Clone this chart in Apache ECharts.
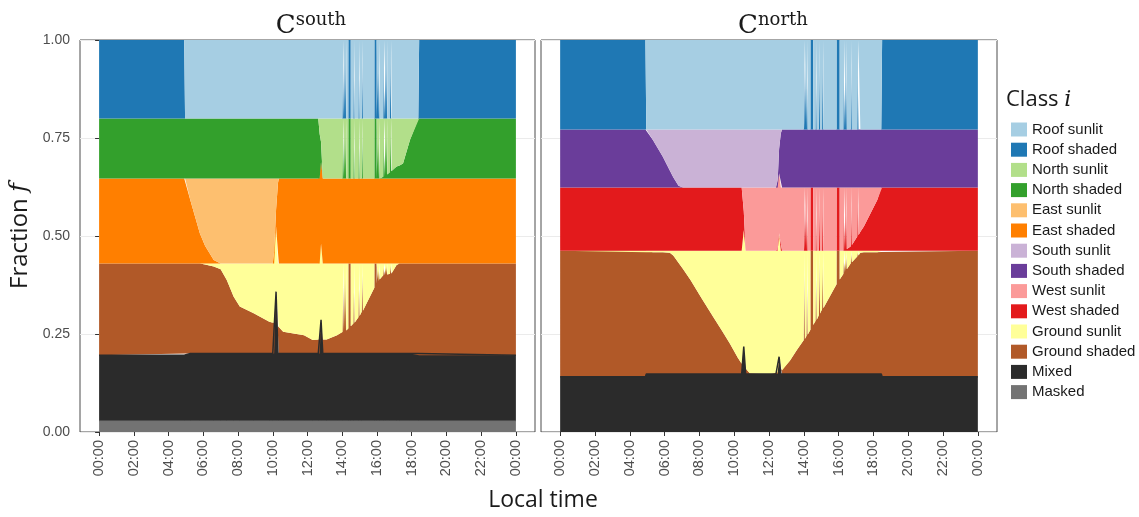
<!DOCTYPE html>
<html><head><meta charset="utf-8">
<script src="https://cdn.jsdelivr.net/npm/echarts@6/dist/echarts.min.js"></script>
<style>html,body{margin:0;padding:0;background:#fff}#c{width:1139px;height:517px}</style>
</head><body><div id="c"></div>
<script>
// ---------- tick labels ----------
const TICKS = [0, 2, 4, 6, 8, 10, 12, 14, 16, 18, 20, 22, 24];
const TICK_LABELS = ['00:00','02:00','04:00','06:00','08:00','10:00','12:00','14:00','16:00','18:00','20:00','22:00','00:00'];

// ---------- classes ----------
const CLASS_NAMES = ['Roof sunlit','Roof shaded','North sunlit','North shaded','East sunlit','East shaded',
  'South sunlit','South shaded','West sunlit','West shaded','Ground sunlit','Ground shaded','Mixed','Masked'];
const CLASS_COLORS = ['#a6cee3','#1f78b4','#b2df8a','#33a02c','#fdbf6f','#ff7f00',
  '#cab2d6','#6a3d9a','#fb9a99','#e31a1c','#ffff99','#b15928','#2b2b2b','#737373'];

// ---------- C south panel (hours of day) ----------
const S_T = [0,4.9,4.95,5.25,5.8,6.1,6.6,7.0,7.35,7.75,
  8.1,8.9,9.8,10.0,10.08,10.19,10.3,10.35,10.6,11.8,
  12.3,12.62,12.7,12.78,12.88,13.1,13.7,
  14.0,
  14.02,14.022,14.09,14.092, 14.16,14.162,14.23,14.232, 14.35,14.352,14.49,14.492,
  14.64,14.642,14.71,14.712, 14.93,14.932,15.0,15.002, 15.12,15.122,15.19,15.192,
  15.85,15.852,15.98,15.982, 16.07,16.072,16.15,16.152, 16.36,16.362,16.43,16.432,
  16.52,16.522,16.59,16.592, 16.75,16.752,16.82,16.822,
  16.85,17.13,17.3,17.5,17.9,18.38,18.43,24];
const S_ROOF_SUN = [0,0,.2,.2,.2,.2,.2,.2,.2,.2,
  .2,.2,.2,.2,.2,.2,.2,.2,.2,.2,
  .2,.2,.2,.2,.2,.2,.2,
  .2,
  .2,0,0,.2, .2,0,0,.2, .2,0,0,.2,
  .2,0,0,.2, .2,0,0,.2, .2,0,0,.2,
  .2,0,0,.2, .2,0,0,.2, .2,0,0,.2,
  .2,0,0,.2, .2,0,0,.2,
  .2,.2,.2,.2,.2,.2,0,0];
const S_ROOF_SH = [.2,.2,0,0,0,0,0,0,0,0,
  0,0,0,0,0,0,0,0,0,0,
  0,0,0,0,0,0,0,
  0,
  0,.2,.2,0, 0,.2,.2,0, 0,.2,.2,0,
  0,.2,.2,0, 0,.2,.2,0, 0,.2,.2,0,
  0,.2,.2,0, 0,.2,.2,0, 0,.2,.2,0,
  0,.2,.2,0, 0,.2,.2,0,
  0,0,0,0,0,0,.2,.2];
const S_NORTH_SUN = [0,0,0,0,0,0,0,0,0,0,
  0,0,0,0,0,0,0,0,0,0,
  0,0,.04,.06,.153,.153,.153,
  .153,
  .153,0,0,.153, .153,0,0,.153, .153,0,0,.153,
  .153,0,0,.153, .153,0,0,.153, .153,0,0,.153,
  .153,0,0,.153, .153,0,0,.153, .149,0,0,.148,
  .144,0,0,.143, .137,0,0,.135,
  .134,.123,.12,.115,.055,0,0,0];
const S_NORTH_SH = [.153,.153,.153,.153,.153,.153,.153,.153,.153,.153,
  .153,.153,.153,.153,.153,.153,.153,.153,.153,.153,
  .153,.153,.113,.05,0,0,0,
  0,
  0,.153,.153,0, 0,.153,.153,0, 0,.153,.153,0,
  0,.153,.153,0, 0,.153,.153,0, 0,.153,.153,0,
  0,.153,.153,0, 0,.153,.153,0, .004,.153,.153,.005,
  .009,.153,.153,.01, .016,.153,.153,.018,
  .019,.03,.033,.038,.098,.153,.153,.153];
const S_EAST_SUN = [0,0,0,.055,.14,.172,.208,.217,.217,.217,
  .217,.217,.217,.217,.185,.08,.012,0,0,0,
  0,0,0,0,0,0,0,
  0,
  0,0,0,0, 0,0,0,0, 0,0,0,0,
  0,0,0,0, 0,0,0,0, 0,0,0,0,
  0,0,0,0, 0,0,0,0, 0,0,0,0,
  0,0,0,0, 0,0,0,0,
  0,0,0,0,0,0,0,0];
const S_EAST_SH = [.217,.217,.217,.162,.077,.045,.009,0,0,0,
  0,0,0,0,.032,.043,.205,.217,.217,.217,
  .217,.217,.217,.209,.217,.217,.217,
  .217,
  .217,.217,.217,.217, .217,.217,.217,.217, .217,.217,.217,.217,
  .217,.217,.217,.217, .217,.217,.217,.217, .217,.217,.217,.217,
  .217,.217,.217,.217, .217,.217,.217,.217, .217,.217,.217,.217,
  .217,.217,.217,.217, .217,.217,.217,.217,
  .217,.217,.217,.217,.217,.217,.217,.217];
const S_GROUND_SUN = [0,0,0,0,0,.003,.008,.015,.042,.085,
  .11,.127,.149,.151,.152,.166,.16,.162,.174,.183,
  .195,.194,.194,.195,.194,.194,.183,
  .175,
  .175,0,0,.174, .172,0,0,.171, .166,0,0,.16,
  .153,0,0,.151, .137,0,0,.134, .123,0,0,.121,
  .062,0,0,.051, .046,0,0,.041, .03,0,0,.03,
  .028,0,0,.028, .026,0,0,.026,
  .025,.004,0,0,0,0,0,0];
const S_GROUND_SH = [.234,.234,.23,.23,.23,.227,.222,.215,.188,.145,
  .12,.103,.081,.079,.078,0,.07,.068,.056,.047,
  .035,.036,.036,0,.036,.036,.047,
  .055,
  .055,.23,.23,.056, .058,.23,.23,.059, .064,.23,.23,.07,
  .077,.23,.23,.079, .093,.23,.23,.096, .107,.23,.23,.109,
  .168,.23,.23,.179, .184,.23,.23,.189, .2,.23,.23,.2,
  .202,.23,.23,.202, .204,.23,.23,.204,
  .205,.226,.23,.23,.23,.23,.234,.234];
const S_MIXED = [.168,.168,.172,.172,.172,.172,.172,.172,.172,.172,
  .172,.172,.172,.172,.172,.33,.172,.172,.172,.172,
  .172,.172,.172,.258,.172,.172,.172,
  .172,
  .172,.172,.172,.172, .172,.172,.172,.172, .172,.172,.172,.172,
  .172,.172,.172,.172, .172,.172,.172,.172, .172,.172,.172,.172,
  .172,.172,.172,.172, .172,.172,.172,.172, .172,.172,.172,.172,
  .172,.172,.172,.172, .172,.172,.172,.172,
  .172,.172,.172,.172,.172,.172,.168,.168];
const S_MASKED = [.028,.028,.028,.028,.028,.028,.028,.028,.028,.028,
  .028,.028,.028,.028,.028,.028,.028,.028,.028,.028,
  .028,.028,.028,.028,.028,.028,.028,
  .028,
  .028,.028,.028,.028, .028,.028,.028,.028, .028,.028,.028,.028,
  .028,.028,.028,.028, .028,.028,.028,.028, .028,.028,.028,.028,
  .028,.028,.028,.028, .028,.028,.028,.028, .028,.028,.028,.028,
  .028,.028,.028,.028, .028,.028,.028,.028,
  .028,.028,.028,.028,.028,.028,.028,.028];

// ---------- C north panel ----------
const N_T = [0,4.9,4.95,5.33,5.9,6.3,6.5,6.8,7.06,7.5,
  8.1,8.79,9.3,9.75,10.2,10.43,10.55,10.66,10.9,12.06,
  12.4,12.5,12.58,12.68,12.75,13.2,13.6,
  13.99,13.992,14.06,14.062, 14.15,14.152,14.22,14.222, 14.38,14.382,14.54,14.542,
  14.67,14.672,14.74,14.742, 14.86,14.862,14.93,14.932, 15.05,15.052,15.12,15.122,
  15.88,15.882,16.06,16.062, 16.27,16.272,16.34,16.342, 16.40,16.402,16.47,16.472,
  16.69,16.692,16.76,16.762, 17.07,17.072,17.14,17.142,
  17.25,17.45,18.22,18.45,18.5,24];
const N_ROOF_SUN = [0,0,.228,.228,.228,.228,.228,.228,.228,.228,
  .228,.228,.228,.228,.228,.228,.228,.228,.228,.228,
  .228,.228,.228,.228,.228,.228,.228,
  .228,0,0,.228, .228,0,0,.228, .228,0,0,.228,
  .228,0,0,.228, .228,0,0,.228, .228,0,0,.228,
  .228,0,0,.228, .228,0,0,.228, .228,0,0,.228,
  .228,0,0,.228, .228,0,0,.228,
  .228,.228,.228,.228,0,0];
const N_ROOF_SH = [.228,.228,0,0,0,0,0,0,0,0,
  0,0,0,0,0,0,0,0,0,0,
  0,0,0,0,0,0,0,
  0,.228,.228,0, 0,.228,.228,0, 0,.228,.228,0,
  0,.228,.228,0, 0,.228,.228,0, 0,.228,.228,0,
  0,.228,.228,0, 0,.228,.228,0, 0,.228,.228,0,
  0,.228,.228,0, 0,.228,.228,0,
  0,0,0,0,.228,.228];
const N_SOUTH_SUN = [0,0,0,.027,.07,.105,.122,.144,.148,.148,
  .148,.148,.148,.148,.148,.148,.148,.148,.148,.148,
  .148,.13,.05,.01,0,0,0,
  0,0,0,0, 0,0,0,0, 0,0,0,0,
  0,0,0,0, 0,0,0,0, 0,0,0,0,
  0,0,0,0, 0,0,0,0, 0,0,0,0,
  0,0,0,0, 0,0,0,0,
  0,0,0,0,0,0];
const N_SOUTH_SH = [.148,.148,.148,.121,.078,.043,.026,.004,0,0,
  0,0,0,0,0,0,0,0,0,0,
  0,.018,.062,.138,.148,.148,.148,
  .148,.148,.148,.148, .148,.148,.148,.148, .148,.148,.148,.148,
  .148,.148,.148,.148, .148,.148,.148,.148, .148,.148,.148,.148,
  .148,.148,.148,.148, .148,.148,.148,.148, .148,.148,.148,.148,
  .148,.148,.148,.148, .148,.148,.148,.148,
  .148,.148,.148,.148,.148,.148];
const N_WEST_SUN = [0,0,0,0,0,0,0,0,0,0,
  0,0,0,0,0,0,.06,.1615,.1615,.1615,
  .1615,.1615,.153,.1615,.1615,.1615,.1615,
  .1615,0,0,.1615, .1615,0,0,.1615, .1615,0,0,.1615,
  .1615,0,0,.1615, .1615,0,0,.1615, .1615,0,0,.1615,
  .1615,0,0,.1615, .1615,0,0,.1615, .158,0,0,.157,
  .151,0,0,.147, .125,0,0,.122,
  .113,.10,.032,0,0,0];
const N_WEST_SH = [.1615,.1615,.1615,.1615,.1615,.1615,.1615,.1615,.1615,.1615,
  .1615,.1615,.1615,.1615,.1615,.1615,.049,0,0,0,
  0,0,0,0,0,0,0,
  0,.1615,.1615,0, 0,.1615,.1615,0, 0,.1615,.1615,0,
  0,.1615,.1615,0, 0,.1615,.1615,0, 0,.1615,.1615,0,
  0,.1615,.1615,0, 0,.1615,.1615,0, .0035,.1615,.1615,.0045,
  .0105,.1615,.1615,.0145, .0365,.1615,.1615,.0395,
  .0485,.0615,.1295,.1615,.1615,.1615];
const N_GROUND_SUN = [0,0,.004,.004,.004,.005,.0125,.0305,.0465,.0755,
  .1195,.1685,.2045,.2365,.2725,.2885,.297,.3005,.3125,.3145,
  .3115,.311,.315,.3065,.3055,.2805,.2535,
  .2285,0,0,.2255, .2175,0,0,.2145, .2015,0,0,.1895,
  .1795,0,0,.1765, .1645,0,0,.1605, .1495,0,0,.1465,
  .0855,0,0,.0735, .0595,0,0,.0565, .0515,0,0,.0475,
  .0325,0,0,.0295, .0145,0,0,.0125,
  .0055,.004,.004,.003,0,0];
const N_GROUND_SH = [.3215,.3215,.3105,.3105,.3105,.3095,.302,.284,.268,.239,
  .195,.146,.11,.078,.042,.026,0,.014,.002,0,
  .003,.0035,0,.008,.009,.034,.061,
  .086,.3145,.3145,.089, .097,.3145,.3145,.10, .113,.3145,.3145,.125,
  .135,.3145,.3145,.138, .15,.3145,.3145,.154, .165,.3145,.3145,.168,
  .229,.3145,.3145,.241, .255,.3145,.3145,.258, .263,.3145,.3145,.267,
  .282,.3145,.3145,.285, .30,.3145,.3145,.302,
  .309,.3105,.3105,.3115,.3215,.3215];
const N_MIXED = [.141,.141,.148,.148,.148,.148,.148,.148,.148,.148,
  .148,.148,.148,.148,.148,.148,.218,.148,.148,.148,
  .148,.148,.192,.148,.148,.148,.148,
  .148,.148,.148,.148, .148,.148,.148,.148, .148,.148,.148,.148,
  .148,.148,.148,.148, .148,.148,.148,.148, .148,.148,.148,.148,
  .148,.148,.148,.148, .148,.148,.148,.148, .148,.148,.148,.148,
  .148,.148,.148,.148, .148,.148,.148,.148,
  .148,.148,.148,.148,.141,.141];

// ---------- build ----------
const colorOf = n => CLASS_COLORS[CLASS_NAMES.indexOf(n)];
function mk(name, T, vals, p, lineW) {
  const c = colorOf(name);
  return {
    name, type: 'line', xAxisIndex: p, yAxisIndex: p, stack: 'panel' + p,
    // value first so that the stacked dimension is the fraction (y)
    data: T.map((t, i) => [vals[i], t]),
    encode: { x: 1, y: 0 },
    showSymbol: false, symbol: 'none', smooth: false,
    color: c, itemStyle: { color: c },
    lineStyle: { width: lineW || 0, color: c },
    areaStyle: { color: c, opacity: 1 },
    emphasis: { disabled: true }, silent: true
  };
}
const series = [
  mk('Masked', S_T, S_MASKED, 0, 1),
  mk('Mixed', S_T, S_MIXED, 0, 1.5),
  mk('Ground shaded', S_T, S_GROUND_SH, 0),
  mk('Ground sunlit', S_T, S_GROUND_SUN, 0),
  mk('East shaded', S_T, S_EAST_SH, 0),
  mk('East sunlit', S_T, S_EAST_SUN, 0),
  mk('North shaded', S_T, S_NORTH_SH, 0),
  mk('North sunlit', S_T, S_NORTH_SUN, 0),
  mk('Roof shaded', S_T, S_ROOF_SH, 0),
  mk('Roof sunlit', S_T, S_ROOF_SUN, 0),
  mk('Mixed', N_T, N_MIXED, 1, 1.5),
  mk('Ground shaded', N_T, N_GROUND_SH, 1),
  mk('Ground sunlit', N_T, N_GROUND_SUN, 1),
  mk('West shaded', N_T, N_WEST_SH, 1),
  mk('West sunlit', N_T, N_WEST_SUN, 1),
  mk('South shaded', N_T, N_SOUTH_SH, 1),
  mk('South sunlit', N_T, N_SOUTH_SUN, 1),
  mk('Roof shaded', N_T, N_ROOF_SH, 1),
  mk('Roof sunlit', N_T, N_ROOF_SUN, 1)
];

const SANS = 'Liberation Sans';
const TITLE_FONT = 'Open Sans';
const SERIF = 'DejaVu Serif';
function xAxis(p) {
  return {
    type: 'value', gridIndex: p, min: -1.1, max: 25.1,
    splitLine: { show: false }, axisLine: { show: false },
    axisTick: { show: true, customValues: TICKS, length: 4, lineStyle: { color: '#333', width: 1 } },
    axisLabel: { customValues: TICKS, rotate: 90, margin: 8, color: '#4d4d4d', fontSize: 14.5, fontFamily: SANS,
      formatter: v => TICK_LABELS[TICKS.indexOf(v)] }
  };
}
function yAxis(p) {
  const a = {
    type: 'value', gridIndex: p, min: 0, max: 1, interval: 0.25,
    axisLine: { show: false },
    splitLine: { show: true, lineStyle: { color: '#ebebeb', width: 1 } },
    axisTick: { show: p === 0, length: 4, lineStyle: { color: '#333' } },
    axisLabel: { show: p === 0, margin: 10, color: '#4d4d4d', fontSize: 14, fontFamily: SANS,
      formatter: v => v.toFixed(2) }
  };
  if (p === 0) {
    a.name = 'Fraction {i|f}';
    a.nameLocation = 'middle';
    a.nameGap = 48;
    a.nameRotate = 90;
    a.nameTextStyle = { fontFamily: TITLE_FONT, fontSize: 24, color: '#1a1a1a',
      rich: { i: { fontFamily: SERIF, fontStyle: 'italic', fontSize: 24, color: '#1a1a1a' } } };
  }
  return a;
}
const stripRich = {
  c: { fontFamily: SERIF, fontSize: 26, fontWeight: 'normal', lineHeight: 30, color: '#1a1a1a' },
  s: { fontFamily: SERIF, fontSize: 18, fontWeight: 'normal', lineHeight: 18, verticalAlign: 'top', color: '#1a1a1a' }
};
const option = {
  animation: false,
  backgroundColor: '#fff',
  title: [
    { text: '{c|C}{s|south}', left: 306, top: 6, textAlign: 'center', textStyle: { fontWeight: 'normal', rich: stripRich } },
    { text: '{c|C}{s|north}', left: 768, top: 6, textAlign: 'center', textStyle: { fontWeight: 'normal', rich: stripRich } },
    { text: 'Local time', left: 538, top: 484, textAlign: 'center',
      textStyle: { fontFamily: TITLE_FONT, fontSize: 23, fontWeight: 'normal', color: '#1a1a1a' } },
    { text: 'Class {i|i}', left: 1001, top: 84,
      textStyle: { fontFamily: TITLE_FONT, fontSize: 22, fontWeight: 'normal', color: '#1a1a1a',
        rich: { i: { fontFamily: SERIF, fontStyle: 'italic', fontWeight: 'normal', fontSize: 22, color: '#1a1a1a' } } } }
  ],
  legend: {
    orient: 'vertical', left: 1006, top: 117, itemWidth: 16, itemHeight: 14, itemGap: 5.2,
    icon: 'rect', selectedMode: false, data: CLASS_NAMES,
    textStyle: { fontFamily: SANS, fontSize: 15, color: '#1a1a1a' }
  },
  grid: [
    { left: 80, top: 40, width: 455, height: 392, show: true, borderColor: '#4d4d4d', borderWidth: 1, backgroundColor: '#fff', containLabel: false },
    { left: 541, top: 40, width: 456, height: 392, show: true, borderColor: '#4d4d4d', borderWidth: 1, backgroundColor: '#fff', containLabel: false }
  ],
  xAxis: [xAxis(0), xAxis(1)],
  yAxis: [yAxis(0), yAxis(1)],
  series
};
const chart = echarts.init(document.getElementById('c'), null, { renderer: 'canvas' });
chart.setOption(option);
</script></body></html>
